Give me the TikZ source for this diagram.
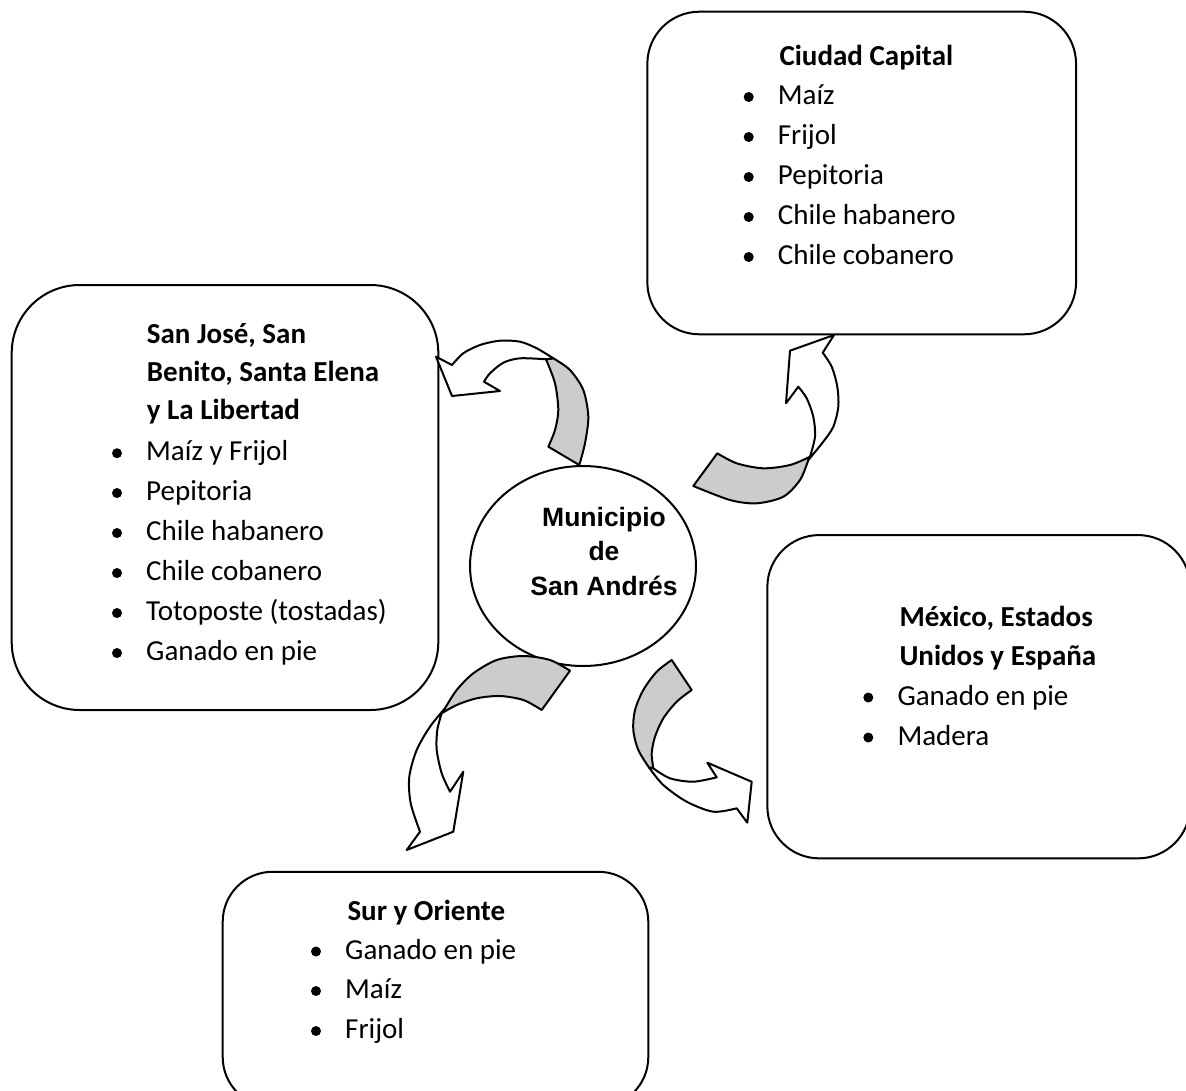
\documentclass[tikz,border=0pt]{standalone}
\usepackage{fontspec}
\setmainfont{Carlito}
\newfontfamily\arialfont{Liberation Sans}
\usetikzlibrary{shapes.geometric}
\tikzset{
  box/.style={draw, line width=2pt, rounded corners=#1, inner sep=0pt},
  txt/.style={anchor=base west, inner sep=0pt, font=\fontsize{29}{40}\selectfont},
  ttl/.style={anchor=base west, inner sep=0pt, font=\fontsize{29}{40}\selectfont\bfseries},
  mtxt/.style={anchor=base, inner sep=0pt, font=\arialfont\bfseries\fontsize{26.5}{34}\selectfont},
  bul/.style={circle, fill=black, inner sep=0pt, minimum size=10pt},
  whitepart/.style={draw, fill=white, line width=2pt, line join=round},
  grayband/.style={draw, fill=black!20, line width=2pt, line join=round}
}
\newcommand\listentry[4]{%
  \node[bul] (#1b) at (#2-29,#3-7.5) {};
  \node[txt] (#1) at (#2,#3) {#4};}
\begin{document}
\begin{tikzpicture}[x=1pt,y=-1pt]
\useasboundingbox (0,0) rectangle (1186,1090);
\fill[white] (0,0) rectangle (1186,1090);
\clip (0,0) rectangle (1186,1090);

% boxes
\node[box=52pt, minimum width=428.7pt, minimum height=322.6pt] (cc) at (861.7,173) {};
\node[box=68pt, minimum width=426.6pt, minimum height=425pt] (sj) at (225,497.5) {};
\node[box=52pt, minimum width=422.7pt, minimum height=323.3pt] (mx) at (978.7,696.7) {};
\node[box=50pt, minimum width=425.6pt, minimum height=235.3pt] (sur) at (435.5,989.4) {};

% ellipse
\node[draw, ellipse, line width=2pt, minimum width=226pt, minimum height=200pt, inner sep=0pt] (mun) at (583,566) {};
\node[mtxt] (m1) at (604,526.7) {Municipio};
\node[mtxt] (m2) at (604,560) {de};
\node[mtxt] (m3) at (604,595) {San Andrés};

% Ciudad Capital
\node[ttl] (cct) at (779.3,65) {Ciudad Capital};
\listentry{c1}{777.7}{104.5}{Maíz}
\listentry{c2}{777.7}{144.5}{Frijol}
\listentry{c3}{777.7}{184.5}{Pepitoria}
\listentry{c4}{777.7}{224.5}{Chile habanero}
\listentry{c5}{777.7}{264.5}{Chile cobanero}

% San José ...
\node[ttl] (sjt1) at (146.7,343.3) {San José, San};
\node[ttl] (sjt2) at (146.7,381) {Benito, Santa Elena};
\node[ttl] (sjt3) at (146.7,419) {y La Libertad};
\listentry{s1}{146}{460.7}{Maíz y Frijol}
\listentry{s2}{146}{500.5}{Pepitoria}
\listentry{s3}{146}{540.5}{Chile habanero}
\listentry{s4}{146}{580.5}{Chile cobanero}
\listentry{s5}{146}{620.5}{Totoposte (tostadas)}
\listentry{s6}{146}{660.5}{Ganado en pie}

% Mexico ...
\node[ttl] (mxt1) at (899.3,626.7) {México, Estados};
\node[ttl] (mxt2) at (899.3,665) {Unidos y España};
\listentry{x1}{897.3}{705}{Ganado en pie}
\listentry{x2}{897.3}{745}{Madera}

% Sur y Oriente
\node[ttl] (surt) at (347.3,920) {Sur y Oriente};
\listentry{u1}{345}{959}{Ganado en pie}
\listentry{u2}{345}{998.5}{Maíz}
\listentry{u3}{345}{1038.5}{Frijol}

% Arrow 1 (to San José box)
\path[grayband] (553.3,358.3) -- plot[smooth] coordinates {(553.3,358.3) (570,370) (583.3,390) (588.3,416.7) (585,443.3) (579.3,465)}
  -- (548.3,446.7) -- plot[smooth] coordinates {(548.3,446.7) (555,430) (558.3,410) (555,383.3) (546,359.3)} -- cycle;
\path[whitepart] (436,356.7) -- (452,365) -- plot[smooth] coordinates {(452,365) (463.3,353.3) (480,345) (500,340.7) (520,341.7) (536.7,348.3) (553.3,358.3)}
  -- (546,359.3) -- plot[smooth] coordinates {(546,359.3) (520,358.3) (503.3,362.7) (490,373.3) (484,381.7)}
  -- (500,391) -- (452,396) -- cycle;

% Arrow 2 (to Ciudad Capital box)
\path[grayband] (808.3,460) -- plot[smooth] coordinates {(808.3,460) (800,480) (783.3,496.7) (756.7,503.3) (730,500) (693.3,486)}
  -- (717.3,453.3) -- plot[smooth] coordinates {(717.3,453.3) (736.7,463.3) (763.3,468.3) (790,465) (810,456.7)} -- cycle;
\path[whitepart] (834,335) -- (822.7,352.7) -- plot[smooth] coordinates {(822.7,352.7) (831.7,366.7) (837.3,386.7) (838.3,406.7) (833.3,426.7) (823.3,441.7) (808.3,460)}
  -- (810,456.7) -- plot[smooth] coordinates {(810,456.7) (815,436.7) (813.3,416.7) (806.7,398.3) (798.3,386.7)}
  -- (786,403.3) -- (790,350.7) -- cycle;

% Arrow 3 (to Sur y Oriente box)
\path[grayband] (570,670.7) -- plot[smooth] coordinates {(570,670.7) (550,660) (523.3,656) (496.7,660) (473.3,673.3) (456.7,690) (445,708.3)}
  -- (441.7,713.3) -- plot[smooth] coordinates {(441.7,713.3) (456.7,705) (476.7,698.3) (500,696) (523.3,700) (541.7,710)} -- cycle;
\path[whitepart] (445,708.3) -- plot[smooth] coordinates {(445,708.3) (430,726.7) (416.7,750) (409.3,776.7) (410.7,803.3) (420,831.7)}
  -- (406.7,850) -- (453.3,831.7) -- (463.3,771.7) -- (450,791.7)
  -- plot[smooth] coordinates {(450,791.7) (441.7,773.3) (436.7,750) (437.3,730) (441.7,713.3)} -- cycle;

% Arrow 4 (to Mexico box)
\path[grayband] (671.7,660) -- plot[smooth] coordinates {(671.7,660) (656.7,671.7) (643.3,690) (635,710) (633.3,730) (638.3,750) (649,767.5)}
  -- (653.3,768.3) -- plot[smooth] coordinates {(653.3,768.3) (651.7,753.3) (655,736.7) (663.3,718.3) (676.7,701.7) (691.7,690)} -- cycle;
\path[whitepart] (649,767.5) -- plot[smooth] coordinates {(649,767.5) (663.3,785) (686.7,801.7) (713.3,811.7) (736.7,808.3)}
  -- (747.3,822.7) -- (751.7,781.7) -- (707.3,762.7) -- (716.7,777.3)
  -- plot[smooth] coordinates {(716.7,777.3) (693.3,781.7) (670,778.3) (653.3,768.3)} -- cycle;
\end{tikzpicture}
\end{document}
